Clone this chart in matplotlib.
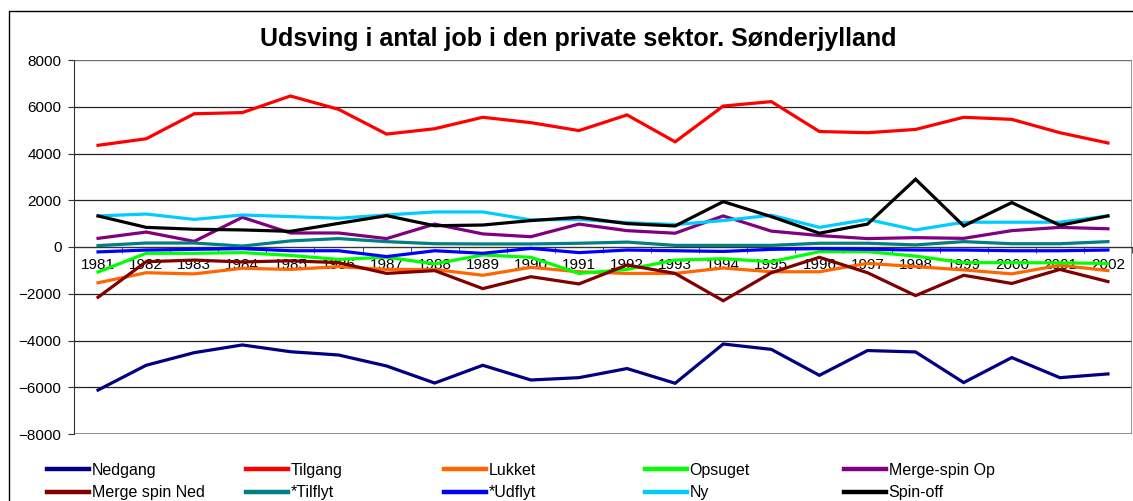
"""Udsving i antal job - linjediagram
"""
import numpy as np
import matplotlib
matplotlib.use('Agg')
import matplotlib.pyplot as plt
from matplotlib.patches import Rectangle

years = [str(y) for y in range(1981, 2003)]

nedgang = [-6120, -5060, -4520, -4190, -4480, -4620, -5090, -5820, -5060, -5690, -5590,
	-5200, -5830, -4150, -4380, -5490, -4430, -4490, -5800, -4730, -5590, -5430]
tilgang = [4350, 4630, 5700, 5750, 6460, 5890, 4830, 5060, 5550, 5320, 4980,
	5650, 4500, 6030, 6220, 4940, 4890, 5030, 5550, 5460, 4890, 4450]
lukket = [-1530, -1100, -1150, -910, -960, -840, -960, -960, -1210, -870, -1060,
	-1130, -1130, -900, -1060, -1060, -700, -840, -980, -1150, -780, -1010]
opsuget = [-1070, -270, -270, -240, -360, -530, -440, -720, -340, -440, -1130,
	-960, -560, -500, -630, -200, -200, -390, -670, -670, -680, -700]
merge_spin_op = [370, 640, 240, 1270, 600, 600, 360, 980, 560, 440, 980,
	700, 590, 1330, 680, 490, 360, 400, 370, 700, 840, 780]
merge_spin_ned = [-2150, -630, -560, -640, -590, -670, -1130, -1010, -1780, -1270, -1580,
	-770, -1130, -2300, -1100, -440, -1100, -2080, -1210, -1560, -960, -1480]
tilflyt = [60, 170, 170, 40, 260, 360, 230, 140, 130, 130, 160,
	210, 70, 70, 70, 160, 160, 90, 230, 140, 140, 230]
udflyt = [-210, -130, -100, -70, -160, -160, -410, -160, -270, -60, -240,
	-130, -160, -190, -100, -70, -100, -130, -130, -160, -160, -130]
ny = [1330, 1410, 1180, 1370, 1300, 1230, 1370, 1500, 1500, 1160, 1180,
	1040, 960, 1130, 1360, 840, 1180, 730, 1060, 1060, 1060, 1330]
spin_off = [1330, 840, 760, 730, 670, 1010, 1340, 910, 940, 1130, 1270,
	1000, 900, 1940, 1300, 590, 980, 2900, 900, 1900, 930, 1330]

series = [nedgang, tilgang, lukket, opsuget, merge_spin_op,
	merge_spin_ned, tilflyt, udflyt, ny, spin_off]
labels = ['Nedgang', 'Tilgang', 'Lukket', 'Opsuget', 'Merge-spin Op',
	'Merge spin Ned', '*Tilflyt', '*Udflyt', 'Ny', 'Spin-off']
colors = ['#000080', '#FF0000', '#FF6600', '#00FF00', '#800080',
	'#800000', '#008080', '#0000FF', '#00CCFF', '#000000']

title = 'Udsving i antal job i den private sektor. Sønderjylland'


def main():
	plt.rcParams['font.family'] = ['Liberation Sans', 'DejaVu Sans']
	W, H = 1133, 501
	fig = plt.figure(figsize=(W / 100, H / 100), dpi=100)

	# outer chart frame
	fig.patches.append(Rectangle((9 / W, -0.1), 1.2, 1 - 11 / H + 0.1, transform=fig.transFigure,
		fill=False, edgecolor='black', linewidth=1.0))

	ax = fig.add_axes([74 / W, 1 - 434 / H, (1132 - 74) / W, (434 - 60) / H])
	x = np.arange(len(years))

	handles = []
	for i in range(len(series)):
		h, = ax.plot(x, series[i], color=colors[i], linewidth=2.3, label=labels[i],
			solid_joinstyle='miter', zorder=2)
		handles.append(h)

	ax.set_xlim(-0.5, len(years) - 0.5)
	ax.set_ylim(-8000, 8000)
	ax.set_yticks(np.arange(-8000, 8001, 2000))
	ax.yaxis.grid(True, color='#222222', linewidth=0.9)
	ax.set_axisbelow(True)

	# category axis crossing at zero
	ax.spines['bottom'].set_position(('data', 0))
	ax.spines['bottom'].set_color('#333333')
	ax.spines['bottom'].set_zorder(1)
	for s in ['top', 'right']:
		ax.spines[s].set_visible(False)
	ax.spines['left'].set_color('#333333')
	ax.add_patch(Rectangle((0, 0), 1, 1, transform=ax.transAxes, fill=False,
		edgecolor='#808080', linewidth=1.2, zorder=0.6))

	ax.set_xticks(x)
	ax.set_xticklabels(years)
	ax.set_xticks(np.arange(-0.5, len(years)), minor=True)
	ax.tick_params(axis='x', which='major', length=0, pad=8, labelsize=11)
	ax.tick_params(axis='x', which='minor', length=4, direction='out', color='#333333')
	ax.tick_params(axis='y', length=4, direction='out', pad=5, labelsize=11, color='#333333')

	fig.text(578 / W, 1 - 39 / H, title, ha='center', va='center',
		fontsize=18, fontweight='bold')

	# legend: five columns of two entries each
	col_x = [47, 246, 444, 645, 844]
	for c in range(5):
		leg = fig.legend(handles=[handles[c], handles[c + 5]], loc='upper left',
			bbox_to_anchor=(col_x[c] / W, 1 - 463 / H), frameon=False,
			borderpad=0, borderaxespad=0, handlelength=2.6, handletextpad=0.2,
			labelspacing=0.45, fontsize=11.5)
		for line in leg.get_lines():
			line.set_linewidth(3.2)

	plt.savefig('out.png', dpi=100)
	plt.close()


if __name__ == '__main__':
	main()
